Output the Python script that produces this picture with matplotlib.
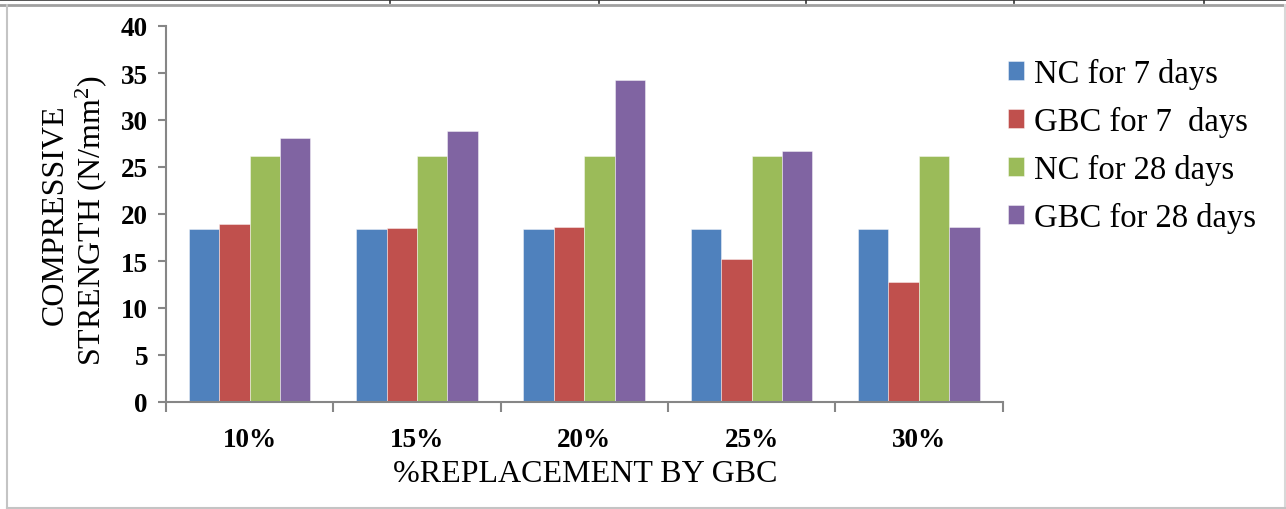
import matplotlib
matplotlib.use("Agg")
import matplotlib.pyplot as plt
from matplotlib.patches import Rectangle
from matplotlib.lines import Line2D
import numpy as np

categories = ["10%", "15%", "20%", "25%", "30%"]
series_names = ["NC for 7 days", "GBC for 7  days", "NC for 28 days", "GBC for 28 days"]
nc_7 = [18.4, 18.4, 18.4, 18.4, 18.4]
gbc_7 = [18.9, 18.5, 18.6, 15.2, 12.8]
nc_28 = [26.2, 26.2, 26.2, 26.2, 26.2]
gbc_28 = [28.1, 28.8, 34.3, 26.7, 18.6]
y_ticks = [0, 5, 10, 15, 20, 25, 30, 35, 40]
colors = ["#4F81BD", "#C0504D", "#9BBB59", "#8064A2"]

plt.rcParams['font.family'] = ['Liberation Serif', 'DejaVu Serif']
plt.rcParams['mathtext.fontset'] = 'custom'
plt.rcParams['mathtext.rm'] = 'Liberation Serif'
plt.rcParams['mathtext.it'] = 'Liberation Serif:italic'
plt.rcParams['mathtext.bf'] = 'Liberation Serif:bold'

W, H = 1286, 510
fig = plt.figure(figsize=(W / 100, H / 100), dpi=100)

def fx(px):
    return px / W

def fy(py):
    return 1 - py / H

# page decorations (frame)
fig.add_artist(Rectangle((0, fy(2)), 1, 2 / H, transform=fig.transFigure,
                         facecolor="#5a5a5a", edgecolor="none"))
fig.add_artist(Line2D([0, 1], [fy(6), fy(6)], transform=fig.transFigure,
                      color="#a0a0a0", lw=2.0))
fig.add_artist(Line2D([fx(7), fx(7)], [fy(6), fy(508.5)], transform=fig.transFigure,
                      color="#c4c4c4", lw=1.5))
fig.add_artist(Line2D([fx(1284.5), fx(1284.5)], [fy(6), fy(508.5)], transform=fig.transFigure,
                      color="#d8d8d8", lw=1.5))
fig.add_artist(Line2D([fx(7), fx(1284.5)], [fy(508.5), fy(508.5)], transform=fig.transFigure,
                      color="#c4c4c4", lw=1.5))
for tx in [390, 599, 806, 1014, 1204]:
    fig.add_artist(Line2D([fx(tx), fx(tx)], [fy(0), fy(4)], transform=fig.transFigure,
                          color="#303030", lw=1.2))

ax = fig.add_axes([fx(166), fy(403), fx(1002.5) - fx(166), fy(27) - fy(403)])

n = len(series_names)
w = 1 / (n + 1.5)
x = np.arange(len(categories))
all_vals = [nc_7, gbc_7, nc_28, gbc_28]
handles = []
for i, (vals, c, name) in enumerate(zip(all_vals, colors, series_names)):
    b = ax.bar(x + (i - (n - 1) / 2) * w, vals, width=w, color=c,
               edgecolor=(1, 1, 1, 0.5), linewidth=0.6, label=name, zorder=2)
    handles.append(b)

ax.set_xlim(-0.5, len(categories) - 0.5)
ax.set_ylim(0, 40)
ax.set_yticks(y_ticks)
ax.set_yticklabels([str(t) for t in y_ticks], fontsize=19.5, fontweight='bold')
ax.set_xticks(np.arange(len(categories) + 1) - 0.5)
ax.set_xticklabels([])
ax.set_xticks(x, minor=True)
ax.set_xticklabels(categories, minor=True, fontsize=19.5, fontweight='bold')
ax.tick_params(axis='x', which='major', direction='out', length=7, width=1.5, color="#868686")
ax.tick_params(axis='x', which='minor', length=0, pad=18)
ax.tick_params(axis='y', direction='out', length=6, width=1.5, color="#868686", pad=7)

for s in ['top', 'right']:
    ax.spines[s].set_visible(False)
for s in ['left', 'bottom']:
    ax.spines[s].set_color("#868686")
    ax.spines[s].set_linewidth(1.5)

fig.text(fx(55), fy(215), "COMPRESSIVE", rotation=90, ha='center', va='center', fontsize=23)
fig.text(fx(91), fy(220), "STRENGTH (N/mm$^2$)", rotation=90, ha='center', va='center', fontsize=23)
fig.text(fx(585), fy(475), "%REPLACEMENT BY GBC", ha='center', va='center', fontsize=23)

leg = fig.legend(handles=handles, labels=series_names, loc='upper left',
                 bbox_to_anchor=(fx(995), fy(46)), frameon=False, fontsize=23.5,
                 handlelength=0.5, handleheight=0.5, handletextpad=0.3,
                 labelspacing=0.52, borderaxespad=0)

fig.savefig("out.png", dpi=100, facecolor="white")
